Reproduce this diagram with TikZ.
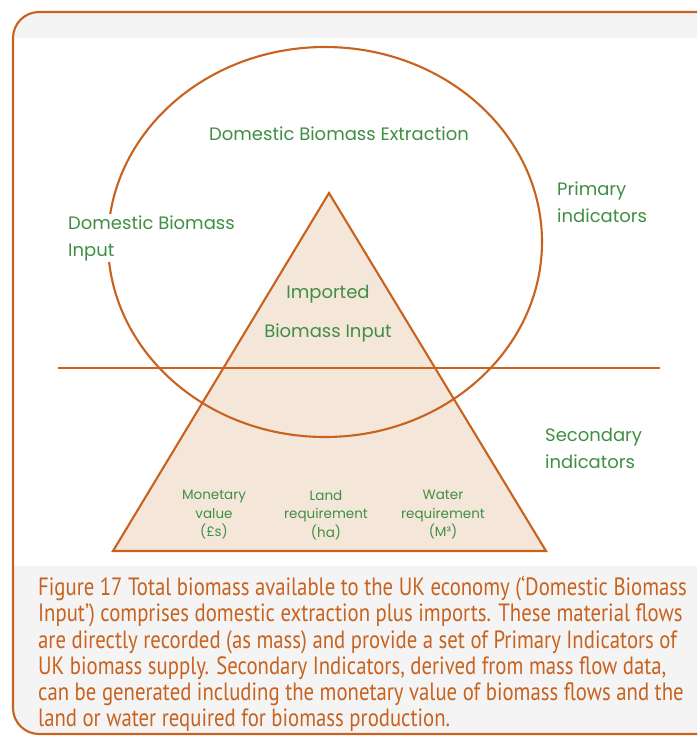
\documentclass[tikz,border=0pt]{standalone}
\usepackage{fontspec}
\setmainfont{Poppins}
\newfontfamily\capfont[FakeStretch=0.83]{PT Sans}
\definecolor{frameorange}{HTML}{C8621E}
\definecolor{labelgreen}{HTML}{3F8F43}
\definecolor{peach}{HTML}{F5E6DA}
\definecolor{bandgray}{HTML}{F4F4F4}
\tikzset{
  outline/.style={draw=frameorange, line width=2.1pt},
  lbl/.style={text=labelgreen, font=\fontsize{18}{27}\selectfont, align=left, inner sep=1pt},
  smalllbl/.style={text=labelgreen, font=\fontsize{13.5}{18.5}\selectfont, align=center, inner sep=0pt},
  captxt/.style={text=frameorange, font=\capfont\fontsize{25}{26.2}\selectfont, align=left, anchor=north west, inner sep=0pt}
}
\begin{document}
\begin{tikzpicture}[x=1pt,y=-1pt]
\useasboundingbox (0,0) rectangle (697,736);
\clip (0,0) rectangle (697,736);
% frame backgrounds
\begin{scope}
  \clip[rounded corners=26pt] (13,12) rectangle (740,734);
  \fill[white] (0,0) rectangle (740,740);
  \fill[bandgray] (0,0) rectangle (740,38);
  \fill[bandgray] (0,566) rectangle (740,740);
\end{scope}
\draw[outline, rounded corners=26pt] (13,12) rectangle (740,734);
% triangle
\coordinate (apex) at (329,193);
\coordinate (bl) at (113,551);
\coordinate (br) at (546,551);
\filldraw[fill=peach, outline] (apex) -- (bl) -- (br) -- cycle;
% ellipse
\draw[outline] (325,242) ellipse [x radius=217pt, y radius=195pt];
% divider line
\coordinate (lineL) at (58,368);
\coordinate (lineR) at (660,368);
\draw[outline] (lineL) -- (lineR);
% labels
\node[lbl, anchor=center] (dbe) at (339,134) {Domestic Biomass Extraction};
\node[lbl, anchor=base west, fill=white] (dbi) at (67,256) {Domestic Biomass\\Input};
\node[lbl, anchor=base west] (prim) at (556,222) {Primary\\indicators};
\node[lbl, anchor=base west] (sec) at (544,468) {Secondary\\indicators};
\node[lbl, anchor=center] (imp1) at (328,294) {Imported};
\node[lbl, anchor=center] (imp2) at (328,333) {Biomass Input};
\node[smalllbl, anchor=north] (mon) at (214,490) {Monetary\\value\\(£s)};
\node[smalllbl, anchor=north] (land) at (326,490) {Land\\requirement\\(ha)};
\node[smalllbl, anchor=north] (water) at (443,490) {Water\\requirement\\(M³)};
% caption
\node[captxt] (cap) at (38,576) {Figure 17 Total biomass available to the UK economy (‘Domestic Biomass\\
Input’) comprises domestic extraction plus imports. These material flows\\
are directly recorded (as mass) and provide a set of Primary Indicators of\\
UK biomass supply. Secondary Indicators, derived from mass flow data,\\
can be generated including the monetary value of biomass flows and the\\
land or water required for biomass production.};
\end{tikzpicture}
\end{document}
